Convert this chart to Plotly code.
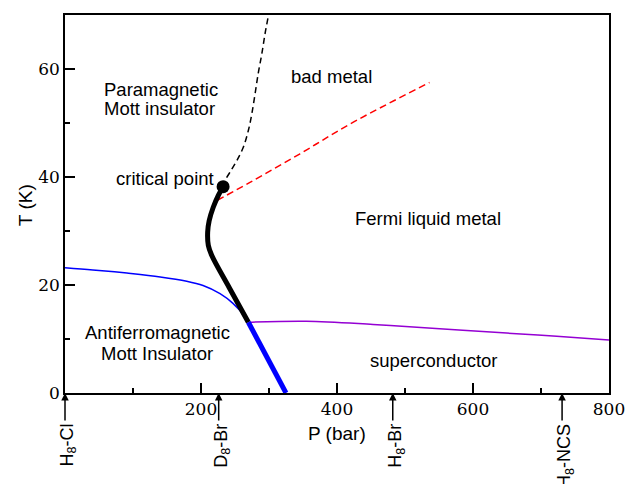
import plotly.graph_objects as go

# Phase-boundary data: pressure P (bar) and temperature T (K)
crossover_P = [232.5, 235.3, 242.6, 252.5, 262.2, 269.6, 274.6, 279.4, 284.3, 289.3, 294.0, 299.0]
crossover_T = [38.2, 39.3, 40.9, 43.0, 45.5, 48.6, 51.6, 55.3, 59.3, 62.7, 66.4, 69.8]

fl_P = [224.0, 272.0, 345.6, 419.0, 536.0]
fl_T = [35.7, 39.0, 44.3, 49.8, 57.5]

mott_P = [232.5, 225.5, 218.0, 212.0, 209.8, 210.8, 215.7, 242.0, 269.6]
mott_T = [38.2, 36.6, 34.4, 31.9, 29.8, 27.3, 25.5, 19.4, 13.1]

afm_first_P = [269.6, 297.0, 325.0]
afm_first_T = [13.1, 6.6, 0.0]

neel_P = [0, 41, 91, 140, 179, 203, 228, 247, 265, 269.6]
neel_T = [23.2, 22.8, 22.2, 21.5, 20.7, 19.9, 18.4, 16.6, 14.1, 13.1]

tc_P = [269.6, 355, 453, 551, 649.5, 723, 800]
tc_T = [13.1, 13.3, 12.7, 11.9, 11.1, 10.5, 9.8]

critical_P = [232.5]
critical_T = [38.2]

# Compounds marked under the pressure axis
compound_labels = ["H<sub>8</sub>-Cl", "D<sub>8</sub>-Br", "H<sub>8</sub>-Br", "H<sub>8</sub>-NCS"]
compound_P = [0, 226, 482, 731]

x_ticks = [200, 400, 600, 800]
y_ticks = [0, 20, 40, 60]

SANS = "Liberation Sans, Arial, Helvetica, sans-serif"
SERIF = "DejaVu Serif, serif"

fig = go.Figure()

fig.add_trace(go.Scatter(x=crossover_P, y=crossover_T, mode="lines", line_shape="spline",
                         line=dict(color="black", width=1.5, dash="6px,4px")))
fig.add_trace(go.Scatter(x=fl_P, y=fl_T, mode="lines", line_shape="spline",
                         line=dict(color="#ff0000", width=1.5, dash="7px,4px")))
fig.add_trace(go.Scatter(x=neel_P, y=neel_T, mode="lines", line_shape="spline",
                         line=dict(color="#0000ff", width=1.5)))
fig.add_trace(go.Scatter(x=tc_P, y=tc_T, mode="lines", line_shape="spline",
                         line=dict(color="#9400d3", width=1.5)))
fig.add_trace(go.Scatter(x=mott_P, y=mott_T, mode="lines", line_shape="spline",
                         line=dict(color="black", width=5)))
fig.add_trace(go.Scatter(x=afm_first_P, y=afm_first_T, mode="lines",
                         line=dict(color="#0000ff", width=5)))
fig.add_trace(go.Scatter(x=critical_P, y=critical_T, mode="markers",
                         marker=dict(color="black", size=13)))

annotations = []

def region_label(text, x, y, xanchor="center"):
    annotations.append(dict(text=text, x=x, y=y, xref="x", yref="y", showarrow=False,
                            xanchor=xanchor, yanchor="middle",
                            font=dict(family=SANS, size=18.5, color="black")))

region_label("Paramagnetic", 55, 56.2, "left")
region_label("Mott insulator", 55, 52.7, "left")
region_label("bad metal", 392.6, 58.7)
region_label("critical point", 221.5, 39.7, "right")
region_label("Fermi liquid metal", 533.8, 32.3)
region_label("Antiferromagnetic", 135.3, 11.2)
region_label("Mott Insulator", 135.3, 7.4)
region_label("superconductor", 542.6, 6.1)

for name, p in zip(compound_labels, compound_P):
    annotations.append(dict(text="", x=p, y=0, xref="x", yref="y", showarrow=True,
                            ax=0, ay=29, arrowhead=2, arrowsize=1, arrowwidth=1.5,
                            arrowcolor="black", standoff=0))
    annotations.append(dict(text=name, x=p, y=0, xref="x", yref="y", showarrow=False,
                            textangle=-90, xanchor="center", yanchor="top",
                            xshift=3, yshift=-29,
                            font=dict(family=SANS, size=18, color="black")))

annotations.append(dict(text="P (bar)", x=0.5, y=-0.106, xref="paper", yref="paper",
                        showarrow=False, xanchor="center", yanchor="middle",
                        font=dict(family=SANS, size=19, color="black")))
annotations.append(dict(text="T (K)", x=-0.0735, y=0.497, xref="paper", yref="paper",
                        showarrow=False, xanchor="center", yanchor="middle", textangle=-90,
                        font=dict(family=SANS, size=19, color="black")))

axis_common = dict(showgrid=False, zeroline=False, showline=True, mirror=True,
                   linecolor="black", linewidth=1.5, ticks="inside", ticklen=10,
                   tickwidth=1.5, tickcolor="black", ticklabeloverflow="allow",
                   automargin=False,
                   tickfont=dict(family=SERIF, size=17, color="black"))

fig.update_layout(
    width=625, height=484,
    margin=dict(l=65, r=16, t=15, b=91, autoexpand=False),
    paper_bgcolor="white", plot_bgcolor="white",
    showlegend=False,
    xaxis=dict(range=[0, 800], tickvals=x_ticks, ticktext=[str(v) for v in x_ticks],
               minor=dict(dtick=100, tick0=0, ticks="inside", ticklen=5, tickwidth=1.5,
                          tickcolor="black"),
               **axis_common),
    yaxis=dict(range=[0, 70], tickvals=y_ticks, ticktext=[str(v) for v in y_ticks],
               minor=dict(dtick=10, tick0=0, ticks="inside", ticklen=5, tickwidth=1.5,
                          tickcolor="black"),
               **axis_common),
    annotations=annotations,
)

fig.write_html("out.html")
